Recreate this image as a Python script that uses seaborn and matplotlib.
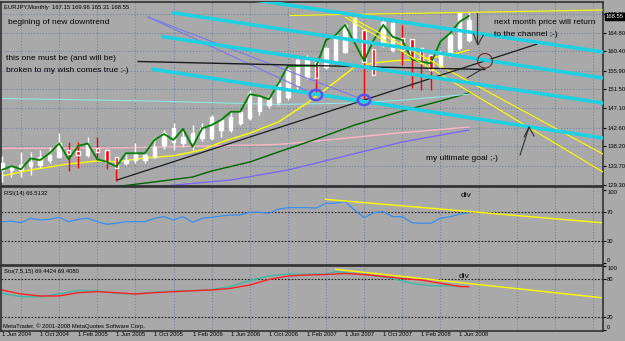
import numpy as np
import matplotlib
matplotlib.use("Agg")
import matplotlib.pyplot as plt
import matplotlib.transforms as mtransforms
from matplotlib import font_manager
from matplotlib.patches import Ellipse
import seaborn as sns

BG = '#a9a9a9'
GRID = '#7585a0'
sns.set_theme(style='white', rc={'axes.facecolor': BG, 'figure.facecolor': BG,
                                 'axes.edgecolor': '#303030'})
plt.rcParams['font.family'] = ['Liberation Sans', 'DejaVu Sans']

# small "terminal" font for axis labels
installed = {f.name for f in font_manager.fontManager.ttflist}
if 'Liberation Sans Narrow' in installed:
    SMALL = dict(family=['Liberation Sans Narrow', 'DejaVu Sans'], size=5.0)
else:
    SMALL = dict(family=['Liberation Sans', 'DejaVu Sans'], size=4.2)

# monthly EURJPY bars, bar 0 = Jun 2004 ... bar 49 = Jul 2008
opens = [132.7, 132.7, 132.7, 133.6, 133.9, 135.0, 135.7, 137.4, 137.1, 136.2,
         137.9, 137.4, 135.7, 134.3, 135.0, 135.0, 135.7, 138.5, 139.2, 139.0,
         139.2, 140.2, 140.2, 142.0, 142.0, 143.6, 144.8, 146.5, 147.9, 148.6,
         149.7, 152.55, 154.4, 158.0, 156.8, 158.0, 160.3, 163.0, 165.4, 161.0,
         161.9, 160.7, 163.5, 163.3, 161.2, 159.55, 156.75, 159.55, 161.2, 163.05]
highs = [136.0, 133.9, 136.9, 136.9, 137.4, 138.1, 141.3, 139.2, 139.2, 140.4,
         140.4, 137.4, 135.7, 136.7, 139.0, 136.9, 140.2, 142.0, 143.7, 142.3,
         143.2, 143.7, 145.5, 144.8, 146.2, 146.7, 151.4, 150.2, 150.2, 153.7,
         156.5, 158.9, 159.6, 158.4, 161.4, 164.7, 167.0, 168.4, 165.4, 161.2,
         167.7, 167.2, 166.6, 163.5, 161.2, 159.55, 160.7, 164.7, 169.6, 169.6]
lows = [130.0, 131.1, 131.1, 131.5, 133.2, 134.3, 135.5, 132.5, 133.2, 135.7,
        135.0, 132.9, 130.1, 133.9, 134.3, 134.3, 135.5, 137.5, 137.4, 138.1,
        137.4, 139.5, 139.7, 140.4, 141.6, 143.2, 144.4, 145.5, 147.2, 147.9,
        149.0, 151.4, 154.0, 150.2, 156.3, 157.7, 160.0, 162.8, 149.0, 154.6,
        161.4, 160.3, 157.2, 151.9, 151.4, 151.4, 156.3, 159.1, 160.7, 162.6]
closes = [134.3, 133.4, 133.9, 134.6, 135.7, 136.2, 139.0, 136.4, 136.2, 138.5,
          136.9, 134.6, 133.2, 135.0, 136.7, 136.2, 138.1, 141.3, 142.5, 140.4,
          141.3, 142.5, 145.1, 144.4, 145.1, 146.2, 150.7, 149.7, 149.5, 153.0,
          156.05, 158.4, 158.4, 154.2, 161.2, 164.2, 166.6, 168.2, 158.0, 154.9,
          167.2, 167.0, 160.7, 158.9, 157.7, 156.05, 160.3, 164.2, 169.4, 167.7]
# green close line
close_line = [132.7, 133.6, 132.85, 135.4, 135.0, 136.6, 138.9, 135.2, 138.3, 138.9,
              135.2, 134.6, 133.5, 136.6, 136.6, 136.6, 139.7, 141.1, 139.7, 142.3,
              138.1, 142.4, 143.2, 144.4, 146.3, 146.3, 150.4, 150.0, 149.2, 152.9,
              157.0, 157.0, 157.05, 157.05, 163.05, 164.2, 166.6, 162.4, 158.15, 163.05,
              166.6, 163.8, 163.05, 158.55, 158.0, 157.6, 162.7, 164.6, 167.3, 168.7]

# moving averages (bar, price)
ma_yellow_x = [0, 3, 7, 10, 12, 15, 18, 21, 23, 26, 29, 32, 33, 35, 37, 39, 41, 43, 45, 47, 49]
ma_yellow_y = [131.3, 132.7, 134.1, 134.8, 134.6, 135.5, 136.0, 137.4, 139.2, 141.3, 143.9,
               148.3, 150.0, 153.3, 156.8, 157.7, 158.2, 158.4, 158.9, 159.6, 160.7]
ma_green_x = [12, 16, 20, 22, 26, 29, 33, 37, 42, 46, 49]
ma_green_y = [128.8, 129.9, 131.05, 132.45, 134.56, 136.89, 139.93, 143.2, 146.47, 148.81, 150.68]
ma_pink_x = [0, 11, 19, 24, 29, 33, 41, 49]
ma_pink_y = [137.76, 137.83, 138.18, 138.41, 138.65, 139.46, 141.22, 142.73]
ma_purple_x = [17, 24, 30, 33, 42, 49]
ma_purple_y = [128.95, 130.35, 132.69, 134.32, 139.23, 142.03]
ma_cyan_x = [0, 16, 29, 36, 42, 49]
ma_cyan_y = [149.4, 148.8, 148.0, 148.3, 149.0, 150.4]

# drawn objects: (bar, bar), (price, price)
channel = [([26.55, 63.06], [172.4, 160.26]),
           ([17.94, 63.06], [169.44, 154.18]),
           ([16.89, 63.06], [163.83, 148.34]),
           ([15.85, 63.06], [156.22, 140.16])]
yellow_lines = [([30.22, 63.06], [168.79, 170.07]),
                ([36.52, 63.06], [168.43, 136.42]),
                ([35.99, 63.06], [168.43, 132.22])]
purple_lines = [([15.32, 32.95], [168.43, 150.21]),
                ([15.32, 37.99], [168.43, 149.04])]
black_trend = ([12.07, 56.14], [130.35, 162.12])
black_flat = ([14.27, 50.68], [158.04, 156.17])
arrows = [([49.84, 49.84], [169.3, 162.3]),
          ([49.46, 49.92, 50.5], [164.63, 161.9, 164.2]),
          ([48.79, 50.58], [154.18, 156.52]),
          ([54.36, 55.30], [136.19, 142.73]),
          ([54.78, 55.30, 55.83], [140.4, 142.73, 140.6])]
blue_circles = [(32.95, 150.21), (37.99, 149.04)]
brown_circle = (50.68, 158.2)

price_ticks = [169.20, 164.80, 160.40, 155.90, 151.50, 147.10, 142.60, 138.20, 133.70, 129.30]
last_price = 168.55

rsi = [56.3, 57.0, 55.0, 61.0, 58.7, 59.6, 62.4, 56.3, 59.6, 61.0,
       56.3, 52.8, 54.2, 56.3, 56.3, 56.3, 61.0, 63.2, 58.7, 63.2,
       55.5, 61.0, 62.4, 64.1, 65.5, 65.5, 69.2, 69.2, 67.8, 73.3,
       75.5, 75.5, 75.5, 75.0, 81.5, 81.5, 83.7, 72.3, 61.8, 68.6,
       70.0, 63.2, 63.2, 55.0, 54.2, 54.2, 61.0, 63.2, 66.5, 68.5]
rsi_div = ([33.9, 62.9], [86.9, 55.0])

sto_main_x = [0, 2, 4, 6, 8, 10, 12, 14, 16, 18, 20, 22, 24, 26, 28, 30, 32, 34, 36, 38,
              40, 42, 44, 46, 48, 49]
sto_main_y = [62.6, 56.3, 53.2, 53.2, 58.4, 60.0, 58.4, 56.3, 58.4, 60.0, 61.5, 62.6, 65.3,
              70.5, 79.2, 84.7, 86.3, 87.1, 88.7, 87.1, 84.0, 80.8, 78.4, 73.2, 68.2, 67.8]
sto_sig_x = [0, 2, 4, 6, 8, 10, 12, 14, 16, 18, 20, 22, 24, 26, 28, 30, 32, 34, 35, 37,
             39, 41, 43, 45, 47, 48]
sto_sig_y = [57.4, 52.1, 52.1, 56.3, 61.8, 61.5, 57.1, 56.3, 59.0, 61.0, 61.5, 63.4, 68.2,
             77.6, 84.7, 87.9, 87.6, 87.9, 91.5, 88.7, 85.5, 80.8, 72.9, 69.4, 69.0, 69.0]
sto_div = ([35.0, 62.9], [95.3, 50.5])

date_bars = [0, 4, 8, 12, 16, 20, 24, 28, 32, 36, 40, 44, 48]
date_labels = ['1 Jun 2004', '1 Oct 2004', '1 Feb 2005', '1 Jun 2005', '1 Oct 2005',
               '1 Feb 2006', '1 Jun 2006', '1 Oct 2006', '1 Feb 2007', '1 Jun 2007',
               '1 Oct 2007', '1 Feb 2008', '1 Jun 2008']
grid_bars = [2 + 4 * k for k in range(16)]

W, H = 625, 341
fig = plt.figure(figsize=(6.25, 3.41), dpi=100)


def px_axes(x0, y0, x1, y1):
    return fig.add_axes([x0 / W, 1 - y1 / H, (x1 - x0) / W, (y1 - y0) / H])


def ftxt(x, y, s, size=6.0, **kw):
    fig.text(x / W, 1 - y / H, s, fontsize=size, va='center', ha='left', color='black', **kw)


def stxt(x, y, s):
    fig.text(x / W, 1 - y / H, s, va='center', ha='left', color='black',
             family=SMALL['family'], fontsize=SMALL['size'])


ax = px_axes(1, 2, 603, 186)
ax_rsi = px_axes(1, 187, 603, 265)
ax_sto = px_axes(1, 266, 603, 331)

for a in (ax, ax_rsi, ax_sto):
    a.set_xlim(-0.1, 63.06)
    a.yaxis.tick_right()
    a.tick_params(axis='y', length=2, width=0.8, pad=1, colors='black',
                  direction='out', left=False, right=True)
    a.set_xticks(grid_bars, minor=True)
    a.grid(axis='x', which='minor', linestyle=':', color=GRID, lw=0.8)
    for s in a.spines.values():
        s.set_color('#303030')
        s.set_linewidth(1.2)
    a.tick_params(axis='x', which='minor', length=0)

ax.set_xticks([])
ax_rsi.set_xticks([])

# ---- main price panel
ax.set_ylim(128.95, 171.94)
ax.set_yticks(price_ticks)
ax.set_yticklabels([f'{p:.2f}' for p in price_ticks])
for p in price_ticks:
    ax.axhline(p, linestyle=':', color=GRID, lw=0.8, zorder=0)

bars = np.arange(len(closes))
cols = ['white' if c >= o else '#ff0000' for o, c in zip(opens, closes)]
bottoms = [min(o, c) for o, c in zip(opens, closes)]
heights = [max(abs(c - o), 0.25) for o, c in zip(opens, closes)]

sns.lineplot(x=ma_pink_x, y=ma_pink_y, ax=ax, color='#ffb6c1', lw=1.0, zorder=2)
sns.lineplot(x=ma_purple_x, y=ma_purple_y, ax=ax, color='#7b68ee', lw=1.0, zorder=2)
sns.lineplot(x=ma_green_x, y=ma_green_y, ax=ax, color='#006400', lw=1.0, zorder=2)
sns.lineplot(x=ma_cyan_x, y=ma_cyan_y, ax=ax, color='#8ee8e8', lw=0.8, zorder=2)
sns.lineplot(x=ma_yellow_x, y=ma_yellow_y, ax=ax, color='#ffff00', lw=1.0, zorder=2)

ax.vlines(bars, lows, highs, colors=cols, lw=1.0, zorder=3)
ax.bar(bars, heights, bottom=bottoms, width=0.36, color=cols, zorder=4)
sns.lineplot(x=bars, y=close_line, ax=ax, color='#008000', lw=1.3, zorder=5)

for xs, ys in purple_lines:
    sns.lineplot(x=xs, y=ys, ax=ax, color='#7a78e8', lw=0.8, zorder=6)
for xs, ys in yellow_lines:
    sns.lineplot(x=xs, y=ys, ax=ax, color='#ffff00', lw=0.8, zorder=6)
sns.lineplot(x=black_flat[0], y=black_flat[1], ax=ax, color='#1a1a1a', lw=1.0, zorder=6)
sns.lineplot(x=black_trend[0], y=black_trend[1], ax=ax, color='#1a1a1a', lw=0.9, zorder=6)
for xs, ys in channel:
    sns.lineplot(x=xs, y=ys, ax=ax, color='#1fd0e2', lw=2.6, zorder=7)
for xs, ys in arrows:
    ax.plot(xs, ys, color='#303030', lw=0.8, zorder=8)

for cx, cy in blue_circles:
    ax.add_patch(Ellipse((cx, cy), 1.3, 2.4, fill=False, ec='#5a52f0', lw=1.8, zorder=9))
ax.add_patch(Ellipse(brown_circle, 1.55, 3.4, fill=False, ec='#6e2a2a', lw=0.8, zorder=9))

tr = mtransforms.blended_transform_factory(ax.transAxes, ax.transData)
ax.text(1.005, last_price, f'{last_price:.2f}', transform=tr, color='white',
        family=SMALL['family'], fontsize=SMALL['size'],
        va='center', ha='left', zorder=10, clip_on=False,
        bbox=dict(boxstyle='square,pad=0.15', fc='black', ec='black'))

# ---- RSI panel
ax_rsi.set_ylim(-2.8, 103.7)
ax_rsi.set_yticks([100, 70, 30, 0])
for lv in (70, 30):
    ax_rsi.axhline(lv, color='#202020', linestyle=(0, (1.5, 1.5)), lw=0.8)
sns.lineplot(x=bars, y=rsi, ax=ax_rsi, color='#3a8ef0', lw=0.9)
sns.lineplot(x=rsi_div[0], y=rsi_div[1], ax=ax_rsi, color='#ffff00', lw=1.0)

# ---- Stochastic panel
ax_sto.set_ylim(-2.1, 100.5)
ax_sto.set_yticks([100, 80, 20, 0])
for lv in (80, 20):
    ax_sto.axhline(lv, color='#202020', linestyle=(0, (1.5, 1.5)), lw=0.8)
sns.lineplot(x=sto_sig_x, y=sto_sig_y, ax=ax_sto, color='#3cb8a8', lw=1.0)
sns.lineplot(x=sto_main_x, y=sto_main_y, ax=ax_sto, color='#ff2020', lw=1.0)
sns.lineplot(x=sto_div[0], y=sto_div[1], ax=ax_sto, color='#ffff00', lw=1.0)

ax_sto.set_xticks(date_bars)
ax_sto.set_xticklabels(date_labels)
ax_sto.tick_params(axis='x', which='major', length=6, width=0.8, pad=-5,
                   colors='black', direction='out')
for lab in ax_sto.get_xticklabels():
    lab.set_ha('left')

for a in (ax, ax_rsi, ax_sto):
    a.set_ylabel('')
    a.set_xlabel('')
    for lab in a.get_yticklabels() + a.get_xticklabels():
        lab.set_family(SMALL['family'])
        lab.set_fontsize(SMALL['size'])

# keep the end labels of the indicator scales inside their panels
for a in (ax_rsi, ax_sto):
    ylabs = a.get_yticklabels()
    ylabs[0].set_va('top')
    ylabs[-1].set_va('bottom')

# ---- texts
stxt(4, 7, 'EURJPY,Monthly  167.15 169.96 165.31 168.55')
ftxt(8, 22, 'begining of new downtrend')
ftxt(6, 58, 'this one must be (and will be)')
ftxt(6, 71, 'broken to my wish comes true ;-)')
ftxt(494, 23, 'next month price will return')
ftxt(494, 34, 'to the channel ;-)')
ftxt(426, 158, 'my ultimate goal ;-)')
ftxt(461, 195, 'div')
ftxt(459, 277, 'div')
stxt(4, 193, 'RSI(14) 66.5132')
stxt(4, 272, 'Sto(7,5,15) 69.4424 69.4080')
stxt(3, 326, 'MetaTrader, \u00a9 2001-2008 MetaQuotes Software Corp.')

fig.savefig('out.png', dpi=100, facecolor=BG)
